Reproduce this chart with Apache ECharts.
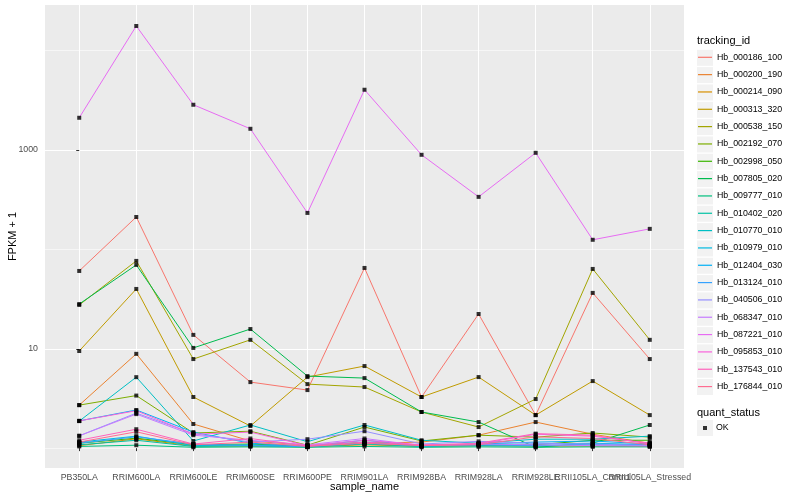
<!DOCTYPE html>
<html><head><meta charset="utf-8">
<script src="https://cdn.jsdelivr.net/npm/echarts@6/dist/echarts.min.js"></script>
<style>html,body{margin:0;padding:0;background:#fff}#c{width:800px;height:500px}</style>
</head><body><div id="c"></div>
<script>
const samples = ['PB350LA','RRIM600LA','RRIM600LE','RRIM600SE','RRIM600PE','RRIM901LA','RRIM928BA','RRIM928LA','RRIM928LE','RRII105LA_Control','RRII105LA_Stressed'];
const trackingIds = ['Hb_000186_100','Hb_000200_190','Hb_000214_090','Hb_000313_320','Hb_000538_150','Hb_002192_070','Hb_002998_050','Hb_007805_020','Hb_009777_010','Hb_010402_020','Hb_010770_010','Hb_010979_010','Hb_012404_030','Hb_013124_010','Hb_040506_010','Hb_068347_010','Hb_087221_010','Hb_095853_010','Hb_137543_010','Hb_176844_010'];
const colors = ['#F8766D','#EA8331','#D89000','#C09B00','#A3A500','#7CAE00','#39B600','#00BB4E','#00BF7D','#00C1A3','#00BFC4','#00BAE0','#00B0F6','#35A2FF','#9590FF','#C77CFF','#E76BF3','#FA62DB','#FF62BC','#FF6C91'];

// FPKM + 1, one value per sample (same order as samples)
const hb_000186_100 = [60.7, 212, 13.8, 4.62, 3.84, 65.1, 3.27, 22.4, 2.15, 36.5, 7.88];
const hb_000200_190 = [2.71, 8.89, 1.75, 1.18, 1.07, 1.12, 1.15, 1.35, 1.83, 1.38, 1.12];
const hb_000214_090 = [1.06, 1.24, 1.05, 1.05, 1.03, 1.08, 1.04, 1.06, 1.05, 1.05, 1.04];
const hb_000313_320 = [9.5, 40.0, 3.27, 1.67, 5.19, 6.70, 3.27, 5.19, 2.15, 4.73, 2.15];
const hb_000538_150 = [27.6, 76.6, 7.88, 12.3, 4.41, 4.12, 2.31, 1.63, 3.12, 63.6, 12.3];
const hb_002192_070 = [2.71, 3.38, 1.42, 1.48, 1.07, 1.63, 1.18, 1.35, 1.29, 1.42, 1.29];
const hb_002998_050 = [1.12, 1.26, 1.08, 1.10, 1.04, 1.15, 1.05, 1.10, 1.08, 1.20, 1.20];
const hb_007805_020 = [28.2, 69.8, 10.2, 15.8, 5.31, 5.07, 2.31, 1.83, 1.02, 1.12, 1.71];
const hb_009777_010 = [1.04, 1.07, 1.02, 1.03, 1.02, 1.04, 1.02, 1.03, 1.02, 1.03, 1.03];
const hb_010402_020 = [1.08, 1.20, 1.04, 1.06, 1.03, 1.10, 1.04, 1.06, 1.05, 1.08, 1.06];
const hb_010770_010 = [1.87, 5.18, 1.18, 1.71, 1.16, 1.71, 1.20, 1.12, 1.23, 1.23, 1.32];
const hb_010979_010 = [1.15, 1.32, 1.06, 1.08, 1.03, 1.12, 1.05, 1.08, 1.10, 1.12, 1.08];
const hb_012404_030 = [1.88, 2.42, 1.45, 1.12, 1.05, 1.20, 1.06, 1.10, 1.15, 1.18, 1.10];
const hb_013124_010 = [1.12, 1.30, 1.10, 1.06, 1.04, 1.14, 1.05, 1.08, 1.06, 1.10, 1.08];
const hb_040506_010 = [1.33, 2.25, 1.40, 1.15, 1.23, 1.48, 1.10, 1.17, 1.12, 1.10, 1.06];
const hb_068347_010 = [1.33, 2.20, 1.35, 1.20, 1.08, 1.25, 1.06, 1.10, 1.08, 1.06, 1.05];
const hb_087221_010 = [2113, 17740, 2858, 1637, 233, 4047, 896, 338, 938, 125, 161];
const hb_095853_010 = [1.88, 2.38, 1.38, 1.45, 1.06, 1.20, 1.08, 1.10, 1.38, 1.32, 1.12];
const hb_137543_010 = [1.20, 1.55, 1.10, 1.25, 1.05, 1.15, 1.07, 1.12, 1.40, 1.35, 1.10];
const hb_176844_010 = [1.15, 1.46, 1.08, 1.15, 1.04, 1.12, 1.06, 1.08, 1.30, 1.25, 1.08];

const seriesValues = [hb_000186_100, hb_000200_190, hb_000214_090, hb_000313_320, hb_000538_150, hb_002192_070, hb_002998_050, hb_007805_020, hb_009777_010, hb_010402_020, hb_010770_010, hb_010979_010, hb_012404_030, hb_013124_010, hb_040506_010, hb_068347_010, hb_087221_010, hb_095853_010, hb_137543_010, hb_176844_010];

const yMajorTicks = [10, 1000];
const yMinorTicks = [1, 100, 10000];
const quantStatus = ['OK'];

const FONT = 'Liberation Sans, Arial, Helvetica, sans-serif';
const lg = v => Math.log10(v);
const idx = samples.map((_, i) => i);
const X_MIN = -0.6, X_MAX = samples.length - 0.4;
const Y_MIN = -0.2, Y_MAX = 4.46;

const lineSeries = trackingIds.map((id, k) => ({
  name: id, type: 'line', showSymbol: false, symbol: 'none',
  data: seriesValues[k].map((v, i) => [i, lg(v)]),
  lineStyle: { width: 1, color: colors[k] },
  itemStyle: { color: colors[k] },
  z: 2, silent: true, animation: false
}));
const allPoints = [];
seriesValues.forEach(arr => arr.forEach((v, i) => allPoints.push([i, lg(v)])));
const pointSeries = {
  name: quantStatus[0], type: 'scatter', symbol: 'rect', symbolSize: 4,
  data: allPoints, itemStyle: { color: '#000' }, z: 3, silent: true, animation: false
};

// legend layout constants
const keyLeft = 697, keyTop = 49.3, keyStep = 17.33, keySize = 16;
const graphics = trackingIds.map((_, i) => ({
  type: 'rect', z: 1,
  shape: { x: keyLeft, y: keyTop + i * keyStep + 0.5, width: keySize, height: keySize },
  style: { fill: '#F2F2F2' }
}));
graphics.push({ type: 'rect', z: 1, shape: { x: keyLeft, y: 420, width: keySize, height: keySize }, style: { fill: '#F2F2F2' } });

const option = {
  animation: false,
  color: colors,
  textStyle: { fontFamily: FONT },
  grid: { left: 45, right: 116, top: 5, bottom: 32, show: true, backgroundColor: '#EBEBEB', borderWidth: 0, containLabel: false, outerBoundsMode: 'none' },
  title: [
    { text: 'tracking_id', left: keyLeft, top: 35, padding: 0, textStyle: { fontSize: 11, fontWeight: 'normal', color: '#000', fontFamily: FONT } },
    { text: 'quant_status', left: keyLeft, top: 407, padding: 0, textStyle: { fontSize: 11, fontWeight: 'normal', color: '#000', fontFamily: FONT } }
  ],
  legend: [
    { data: trackingIds, orient: 'vertical', left: keyLeft + 1, top: keyTop, padding: 0, itemGap: keyStep - 16,
      itemWidth: 14, itemHeight: 1.2, icon: 'rect', selectedMode: false, z: 5,
      textStyle: { fontSize: 8.8, color: '#000', lineHeight: 16, fontFamily: FONT } },
    { data: quantStatus, orient: 'vertical', left: keyLeft + 6, top: 420, padding: 0,
      itemWidth: 4, itemHeight: 4, icon: 'rect', selectedMode: false, z: 5,
      textStyle: { fontSize: 8.8, color: '#000', lineHeight: 16, padding: [0, 0, 0, 4], fontFamily: FONT } }
  ],
  graphic: graphics,
  xAxis: {
    type: 'value', min: X_MIN, max: X_MAX,
    name: 'sample_name', nameLocation: 'middle', nameGap: 13, nameMoveOverlap: false,
    nameTextStyle: { fontSize: 11, color: '#000', fontFamily: FONT },
    axisLine: { show: false },
    axisTick: { show: true, customValues: idx, length: 3, lineStyle: { color: '#333', width: 1 } },
    axisLabel: { customValues: [X_MIN].concat(idx, [X_MAX]),
      formatter: v => (Number.isInteger(v) ? samples[v] : ''),
      fontSize: 8.8, color: '#4D4D4D', margin: 5,
      hideOverlap: false, showMinLabel: false, showMaxLabel: false, fontFamily: FONT },
    splitLine: { show: true, lineStyle: { color: '#FFFFFF', width: 1.07 } }
  },
  yAxis: [
    { type: 'value', min: Y_MIN, max: Y_MAX,
      name: 'FPKM + 1', nameLocation: 'middle', nameGap: 27, nameMoveOverlap: false,
      nameTextStyle: { fontSize: 11, color: '#000', fontFamily: FONT },
      axisLine: { show: false },
      axisTick: { show: true, customValues: yMajorTicks.map(lg), length: 3, lineStyle: { color: '#333', width: 1 } },
      axisLabel: { customValues: yMajorTicks.map(lg), formatter: v => String(Math.round(Math.pow(10, v))), fontSize: 8.8, color: '#4D4D4D', margin: 7,
        showMinLabel: true, showMaxLabel: true, fontFamily: FONT },
      splitLine: { show: true, lineStyle: { color: '#FFFFFF', width: 1.07 } }
    },
    { type: 'value', min: Y_MIN, max: Y_MAX, position: 'left',
      axisLine: { show: false },
      axisTick: { show: false, customValues: yMinorTicks.map(lg) },
      axisLabel: { show: false, customValues: yMinorTicks.map(lg) },
      splitLine: { show: true, lineStyle: { color: '#FFFFFF', width: 0.55 } }
    }
  ],
  series: lineSeries.concat([pointSeries])
};
const chart = echarts.init(document.getElementById('c'));
chart.setOption(option);
</script></body></html>
